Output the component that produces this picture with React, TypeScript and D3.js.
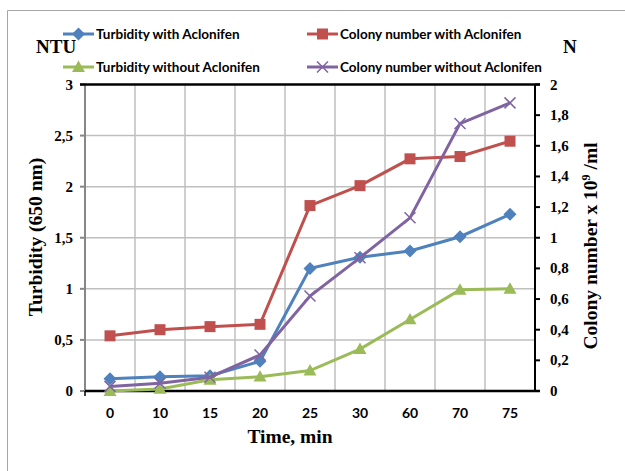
import React from 'react';
import * as d3 from 'd3';

const categories = ['0', '10', '15', '20', '25', '30', '60', '70', '75'];
const turbidityWith = [0.12, 0.14, 0.15, 0.29, 1.2, 1.31, 1.37, 1.51, 1.73];
const turbidityWithout = [0, 0.02, 0.11, 0.14, 0.2, 0.41, 0.7, 0.99, 1.0];
const colonyWith = [0.36, 0.4, 0.42, 0.435, 1.21, 1.34, 1.515, 1.53, 1.63];
const colonyWithout = [0.03, 0.05, 0.09, 0.235, 0.62, 0.87, 1.13, 1.745, 1.88];
const leftTicks = [0, 0.5, 1, 1.5, 2, 2.5, 3];
const rightTicks = [0, 0.2, 0.4, 0.6, 0.8, 1, 1.2, 1.4, 1.6, 1.8, 2];

const W = 625;
const H = 471;
const serif = '"Liberation Serif", "Times New Roman", serif';
const sans = 'Lato, "Open Sans", sans-serif';

const fmt = (v: number) => String(v).replace('.', ',');

export default function App() {
  const x = d3.scaleBand<string>().domain(categories).range([85, 535]).padding(0);
  const yL = d3.scaleLinear().domain([0, 3]).range([391, 84.5]);
  const yR = d3.scaleLinear().domain([0, 2]).range([391, 84.5]);
  const cx = (c: string) => (x(c) as number) + x.bandwidth() / 2;

  const series = [
    { name: 'Turbidity with Aclonifen', data: turbidityWith, y: yL, color: '#4F81BD', marker: 'diamond' },
    { name: 'Colony number with Aclonifen', data: colonyWith, y: yR, color: '#C0504D', marker: 'square' },
    { name: 'Turbidity without Aclonifen', data: turbidityWithout, y: yL, color: '#9BBB59', marker: 'triangle' },
    { name: 'Colony number without Aclonifen', data: colonyWithout, y: yR, color: '#8064A2', marker: 'x' },
  ];

  const marker = (type: string, px: number, py: number, color: string, key: string | number) => {
    if (type === 'diamond') {
      const s = 6.5;
      return <path key={key} d={`M${px},${py - s}L${px + s},${py}L${px},${py + s}L${px - s},${py}Z`} fill={color} />;
    }
    if (type === 'square') {
      return <rect key={key} x={px - 5.5} y={py - 5.5} width={11} height={11} fill={color} />;
    }
    if (type === 'triangle') {
      const s = 6.5;
      return <path key={key} d={`M${px},${py - s}L${px + s},${py + s * 0.75}L${px - s},${py + s * 0.75}Z`} fill={color} />;
    }
    const s = 5.5;
    return (
      <path key={key} d={`M${px - s},${py - s}L${px + s},${py + s}M${px - s},${py + s}L${px + s},${py - s}`}
        stroke={color} strokeWidth={1.5} fill="none" />
    );
  };

  const legend = [
    { s: series[0], lx: 63, ly: 34 },
    { s: series[1], lx: 307, ly: 34 },
    { s: series[2], lx: 63, ly: 67 },
    { s: series[3], lx: 307, ly: 67 },
  ];

  return (
    <svg width={W} height={H} style={{ position: 'absolute', left: 0, top: 0 }}>
      <rect x={0} y={0} width={W} height={H} fill="#fff" />
      <path d={`M7.5,${H}V10.5H${W}`} fill="none" stroke="#a6a6a6" strokeWidth={1} />

      {/* horizontal grid */}
      {leftTicks.slice(1, -1).map(t => (
        <line key={'h' + t} x1={85} x2={535} y1={yL(t)} y2={yL(t)} stroke="#bfbfbf" strokeWidth={1.5} />
      ))}
      {/* vertical grid */}
      {categories.slice(1).map(c => (
        <line key={'v' + c} x1={x(c)} x2={x(c)} y1={84.5} y2={391} stroke="#bfbfbf" strokeWidth={1.5} />
      ))}

      {/* left axis */}
      <line x1={85} x2={85} y1={84.5} y2={391} stroke="#878787" strokeWidth={2} />
      {leftTicks.map(t => (
        <g key={'lt' + t}>
          <line x1={80} x2={85} y1={yL(t)} y2={yL(t)} stroke="#878787" strokeWidth={2} />
          <text x={73} y={yL(t) + 5} textAnchor="end" fontFamily={serif} fontWeight="bold" fontSize={15}>{fmt(t)}</text>
        </g>
      ))}
      {/* right axis */}
      <line x1={535} x2={535} y1={84.5} y2={391} stroke="#000" strokeWidth={2} />
      {rightTicks.map(t => (
        <g key={'rt' + t}>
          <line x1={535} x2={540} y1={yR(t)} y2={yR(t)} stroke="#000" strokeWidth={2} />
          <text x={550} y={yR(t) + 5} fontFamily={serif} fontWeight="bold" fontSize={15}>{fmt(t)}</text>
        </g>
      ))}
      {/* top and bottom borders */}
      <line x1={80} x2={540} y1={84.5} y2={84.5} stroke="#000" strokeWidth={2.5} />
      <line x1={85} x2={540} y1={391} y2={391} stroke="#000" strokeWidth={2.5} />
      <line x1={85} x2={85} y1={391} y2={396} stroke="#000" strokeWidth={1.5} />

      {/* x labels */}
      {categories.map(c => (
        <text key={'xl' + c} x={cx(c)} y={418} textAnchor="middle" fontFamily={sans} fontWeight="bold" fontSize={14}>{c}</text>
      ))}

      {/* series */}
      {series.map((s, i) => {
        const line = d3.line<number>().x((_, j) => cx(categories[j])).y(v => s.y(v));
        return (
          <g key={'s' + i}>
            <path d={line(s.data) || ''} fill="none" stroke={s.color} strokeWidth={3} />
            {s.data.map((v, j) => marker(s.marker, cx(categories[j]), s.y(v), s.color, j))}
          </g>
        );
      })}

      {/* legend */}
      {legend.map((l, i) => (
        <g key={'lg' + i}>
          <line x1={l.lx} x2={l.lx + 31} y1={l.ly} y2={l.ly} stroke={l.s.color} strokeWidth={3} />
          {marker(l.s.marker, l.lx + 15.5, l.ly, l.s.color, 'm')}
          <text x={l.lx + 33} y={l.ly + 4.5} fontFamily={sans} fontWeight="bold" fontSize={13.5}>{l.s.name}</text>
        </g>
      ))}

      {/* axis titles */}
      <text x={36} y={53} fontFamily={serif} fontWeight="bold" fontSize={19}>NTU</text>
      <text x={563} y={53} fontFamily={serif} fontWeight="bold" fontSize={19}>N</text>
      <text transform="translate(42,237) rotate(-90)" textAnchor="middle" fontFamily={serif} fontWeight="bold" fontSize={19.5}>Turbidity (650 nm)</text>
      <text transform="translate(597,246) rotate(-90)" textAnchor="middle" fontFamily={serif} fontWeight="bold" fontSize={19.5}>
        Colony number x 10<tspan fontSize={12} dy={-7}>9</tspan><tspan dy={7}> /ml</tspan>
      </text>
      <text x={290} y={443} textAnchor="middle" fontFamily={serif} fontWeight="bold" fontSize={19.5}>Time, min</text>
    </svg>
  );
}
